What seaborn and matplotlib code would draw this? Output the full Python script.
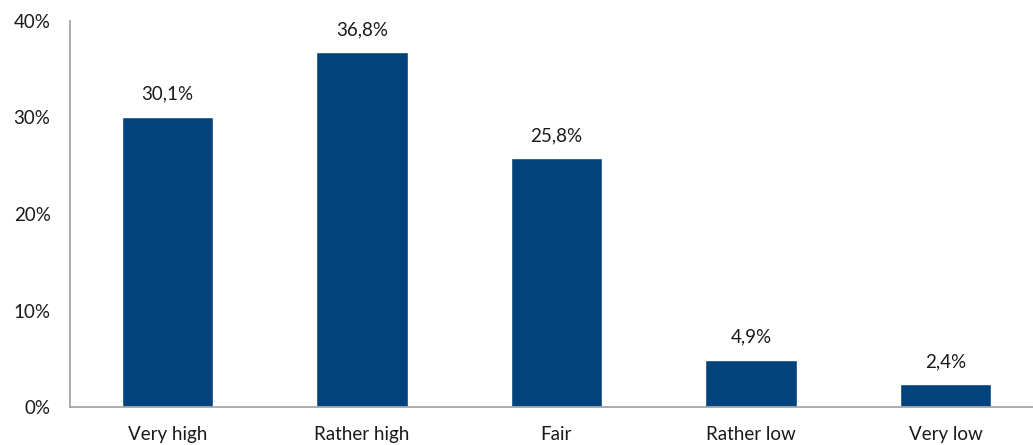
import matplotlib
matplotlib.use("Agg")
import matplotlib.pyplot as plt
import seaborn as sns
import pandas as pd

categories = ["Very high", "Rather high", "Fair", "Rather low", "Very low"]
values = [30.1, 36.8, 25.8, 4.9, 2.4]
value_labels = ["30,1%", "36,8%", "25,8%", "4,9%", "2,4%"]
y_ticks = [0, 10, 20, 30, 40]
y_tick_labels = ["0%", "10%", "20%", "30%", "40%"]

sns.set_style("white")
plt.rcParams['font.family'] = ['Lato', 'DejaVu Sans']

df = pd.DataFrame({"cat": categories, "val": values})

fig = plt.figure(figsize=(10.33, 4.45), dpi=100)
ax = fig.add_axes([70/1033, 38/445, 1 - 70/1033, (407-21)/445])
sns.barplot(data=df, x="cat", y="val", color="#02437D", width=0.47,
            saturation=1, ax=ax)
ax.set_xlim(-0.5, 4.45)
ax.set_ylim(0, 40)
ax.set_yticks(y_ticks)
ax.set_yticklabels(y_tick_labels, fontsize=13.5, color="#1a1a1a")
ax.tick_params(axis="y", length=0, pad=14)
ax.tick_params(axis="x", length=0, pad=14, labelsize=13.5, labelcolor="#1a1a1a")
ax.set_xlabel("")
ax.set_ylabel("")
for s in ["top", "right"]:
    ax.spines[s].set_visible(False)
for s in ["left", "bottom"]:
    ax.spines[s].set_color("#A6A6A6")
    ax.spines[s].set_linewidth(1.3)

for i, (v, lab) in enumerate(zip(values, value_labels)):
    ax.annotate(lab, (i, v), xytext=(0, 10), textcoords="offset points",
                ha="center", va="bottom", fontsize=13.5, color="#1a1a1a")

fig.savefig("out.png", dpi=100)
